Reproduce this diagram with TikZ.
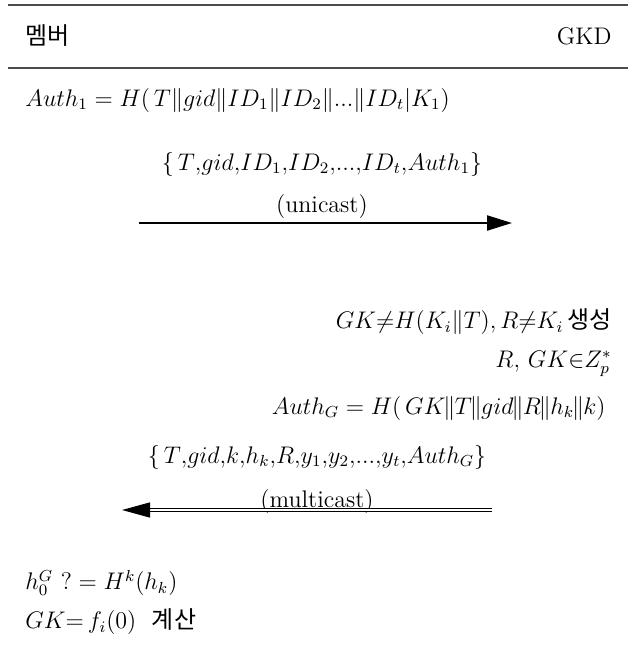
\documentclass[tikz,border=0pt]{standalone}
\usepackage{amsmath,amssymb}
\usepackage{fontspec}
\newfontfamily\kor{Noto Sans CJK KR}
\usetikzlibrary{arrows.meta,positioning}
\newcommand{\tc}{\mkern-1.5mu\|\mkern-0.5mu}

\begin{document}
\begin{tikzpicture}[x=0.5pt, y=-0.5pt,
  party/.style={font=\large, inner sep=0pt},
  eqn/.style={font=\large, inner sep=0pt},
  msg/.style={font=\large, inner sep=0pt},
  rule/.style={line width=0.8pt, black!70},
  uni/.style={-{Triangle[length=12.5pt,width=7.5pt]}, line width=1.1pt},
  multi/.style={-{Triangle[length=14pt,width=7.5pt]}, double, double distance=1pt, line width=0.7pt}
]
\useasboundingbox (0,0) rectangle (636,649);

% 머리글
\coordinate (topL) at (8,5);
\coordinate (topR) at (628,5);
\coordinate (midL) at (8,68);
\coordinate (midR) at (628,68);
\draw[rule] (topL) -- (topR);
\draw[rule] (midL) -- (midR);
\node[party, anchor=west] (member) at (25,36) {\kor 멤버};
\node[party, anchor=east] (gkd) at (612,36) {GKD};

% 멤버 쪽 계산
\node[eqn, anchor=west] (auth1) at (25,100) {$Auth_1 = H(\,T\|gid\|ID_1\|ID_2\|...\|ID_t|K_1)$};

% unicast 메시지
\node[msg] (msg1) at (322,164) {$\{\,T{,}gid{,}ID_1{,}ID_2{,}...{,}ID_t{,}Auth_1\}$};
\node[msg] (uni) at (322,207) {(unicast)};
\coordinate (uniS) at (139,223);
\coordinate (uniE) at (512,223);
\draw[uni] (uniS) -- (uniE);

% GKD 쪽 계산
\node[eqn, anchor=east] (gen) at (612,322) {$GK{\neq}H(K_i\|T){,}\,R{\neq}K_i$\,{\kor 생성}};
\node[eqn, anchor=east] (field) at (612,364) {$R,\,GK{\in}Z_p^*$};
\node[eqn, anchor=east] (authG) at (606,408) {$Auth_G = H(\,GK\tc T\tc gid\tc R\tc h_k\tc k)$};

% multicast 메시지
\node[msg] (msg2) at (317,457) {$\{\,T{,}gid{,}k{,}h_k{,}R{,}y_1{,}y_2{,}...{,}y_t{,}Auth_G\}$};
\node[msg] (multi) at (317,502) {(multicast)};
\coordinate (multiS) at (492,510);
\coordinate (multiE) at (122,510);
\draw[multi] (multiS) -- (multiE);

% 멤버 쪽 검증
\node[eqn, anchor=west] (check) at (25,583) {$h_0^G\ ?= H^k(h_k)$};
\node[eqn, anchor=west] (gk) at (25,622) {$GK{=}\,f_i(0)$\ \ {\kor 계산}};

\end{tikzpicture}
\end{document}
